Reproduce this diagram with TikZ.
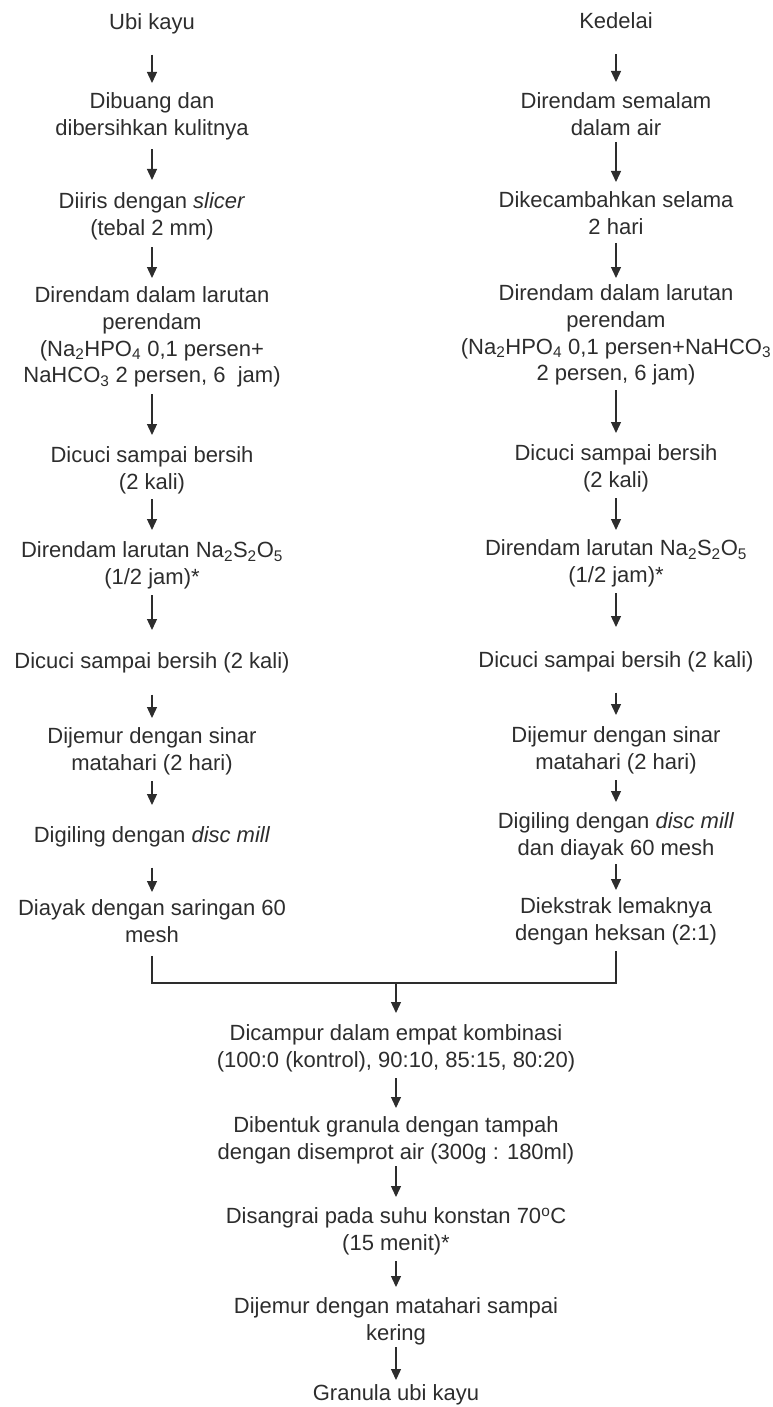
\documentclass[tikz,border=0pt]{standalone}
\usepackage{fontspec}
\setmainfont{Liberation Sans}
\usetikzlibrary{arrows.meta}
\definecolor{ink}{RGB}{45,45,45}
\tikzset{
  txt/.style={anchor=north, align=center, inner sep=0pt, outer sep=0pt, text=ink,
    font=\fontsize{22}{26.6}\selectfont},
  arr/.style={draw=ink, line width=1.3pt, -{Triangle[width=10pt,length=11pt]}},
  joinline/.style={draw=ink, line width=1.3pt}
}
\begin{document}
\begin{tikzpicture}[x=1pt,y=-1pt]
\path[use as bounding box] (0,0) rectangle (773,1407);
% ---------- left column ----------
\node[txt] (l0) at (152,14) {Ubi kayu};
\node[txt] (l1) at (152,93) {Dibuang dan\\dibersihkan kulitnya};
\node[txt] (l2) at (152,193) {Diiris dengan \textit{slicer}\\(tebal 2 mm)};
\node[txt] (l3) at (152,287) {Direndam dalam larutan\\perendam\\(Na\textsubscript{2}HPO\textsubscript{4} 0,1 persen+\\NaHCO\textsubscript{3} 2 persen, 6~~jam)};
\node[txt] (l4) at (152,447) {Dicuci sampai bersih\\(2 kali)};
\node[txt] (l5) at (152,542) {Direndam larutan Na\textsubscript{2}S\textsubscript{2}O\textsubscript{5}\\(1/2 jam)*};
\node[txt] (l6) at (152,653) {Dicuci sampai bersih (2 kali)};
\node[txt] (l7) at (152,728) {Dijemur dengan sinar\\matahari (2 hari)};
\node[txt] (l8) at (152,827) {Digiling dengan \textit{disc mill}};
\node[txt] (l9) at (152,900) {Diayak dengan saringan 60\\mesh};
% ---------- right column ----------
\node[txt] (r0) at (616,13) {Kedelai};
\node[txt] (r1) at (616,93) {Direndam semalam\\dalam air};
\node[txt] (r2) at (616,192) {Dikecambahkan selama\\2 hari};
\node[txt] (r3) at (616,285) {Direndam dalam larutan\\perendam\\(Na\textsubscript{2}HPO\textsubscript{4} 0,1 persen+NaHCO\textsubscript{3}\\2 persen, 6 jam)};
\node[txt] (r4) at (616,445) {Dicuci sampai bersih\\(2 kali)};
\node[txt] (r5) at (616,540) {Direndam larutan Na\textsubscript{2}S\textsubscript{2}O\textsubscript{5}\\(1/2 jam)*};
\node[txt] (r6) at (616,652) {Dicuci sampai bersih (2 kali)};
\node[txt] (r7) at (616,727) {Dijemur dengan sinar\\matahari (2 hari)};
\node[txt] (r8) at (616,813) {Digiling dengan \textit{disc mill}\\dan diayak 60 mesh};
\node[txt] (r9) at (616,898) {Diekstrak lemaknya\\dengan heksan (2:1)};
% ---------- bottom column ----------
\coordinate (jn) at (396,983);
\node[txt] (b1) at (396,1025) {Dicampur dalam empat kombinasi\\(100:0 (kontrol), 90:10, 85:15, 80:20)};
\node[txt] (b2) at (396,1117) {Dibentuk granula dengan tampah\\dengan disemprot air (300g : 180ml)};
\node[txt] (b3) at (396,1208) {Disangrai pada suhu konstan 70\textsuperscript{o}C\\(15 menit)*};
\node[txt] (b4) at (396,1298) {Dijemur dengan matahari sampai\\kering};
\node[txt] (b5) at (396,1385) {Granula ubi kayu};
% ---------- left arrows ----------
\draw[arr, shorten <=20pt, shorten >=10pt] (l0) -- (l1);
\draw[arr, shorten <=9pt,  shorten >=13pt] (l1) -- (l2);
\draw[arr, shorten <=7pt,  shorten >=9pt]  (l2) -- (l3);
\draw[arr, shorten <=7pt,  shorten >=12pt] (l3) -- (l4);
\draw[arr, shorten <=5pt,  shorten >=12pt] (l4) -- (l5);
\draw[arr, shorten <=6pt,  shorten >=23pt] (l5) -- (l6);
\draw[arr, shorten <=21pt, shorten >=10pt] (l6) -- (l7);
\draw[arr, shorten <=6pt,  shorten >=22pt] (l7) -- (l8);
\draw[arr, shorten <=20pt, shorten >=8pt]  (l8) -- (l9);
% ---------- right arrows ----------
\draw[arr, shorten <=25pt, shorten >=11pt] (r0) -- (r1);
\draw[arr, shorten <=6pt,  shorten >=10pt] (r1) -- (r2);
\draw[arr, shorten <=8pt,  shorten >=7pt]  (r2) -- (r3);
\draw[arr, shorten <=5pt,  shorten >=12pt] (r3) -- (r4);
\draw[arr, shorten <=6pt,  shorten >=10pt] (r4) -- (r5);
\draw[arr, shorten <=6pt,  shorten >=25pt] (r5) -- (r6);
\draw[arr, shorten <=20pt, shorten >=12pt] (r6) -- (r7);
\draw[arr, shorten <=6pt,  shorten >=11pt] (r7) -- (r8);
\draw[arr, shorten <=4pt,  shorten >=8pt]  (r8) -- (r9);
% ---------- merge ----------
\draw[joinline, shorten <=13pt, shorten >=6pt] (l9.south) -- (l9.south |- jn) -- (r9.south |- jn) -- (r9.south);
\draw[arr, shorten >=12pt] (jn) -- (b1);
% ---------- bottom arrows ----------
\draw[arr, shorten <=6pt, shorten >=9pt]  (b1) -- (b2);
\draw[arr, shorten <=2pt, shorten >=11pt] (b2) -- (b3);
\draw[arr, shorten <=6pt, shorten >=11pt] (b3) -- (b4);
\draw[arr, shorten <=2pt, shorten >=5pt]  (b4) -- (b5);
\end{tikzpicture}
\end{document}
